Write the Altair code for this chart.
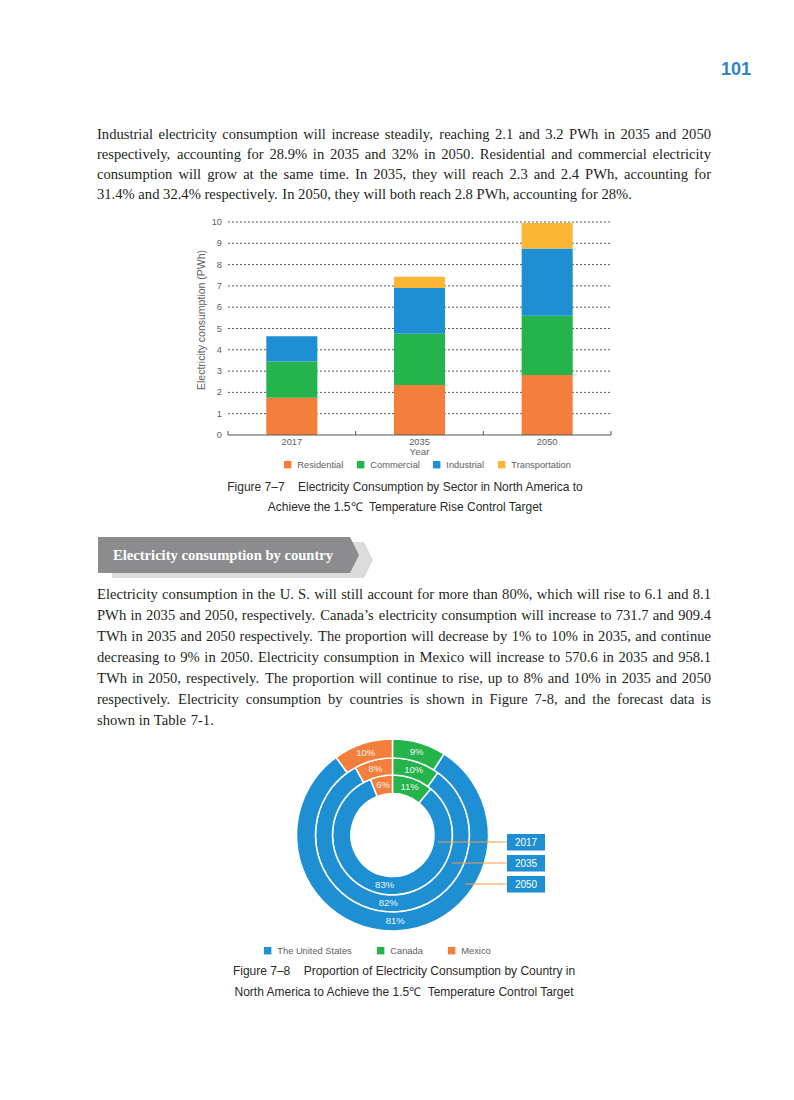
import altair as alt
import pandas as pd

# ---------------- text content ----------------
page_number = "101"
para1 = [
    "Industrial electricity consumption will increase steadily, reaching 2.1 and 3.2 PWh in 2035 and 2050",
    "respectively, accounting for 28.9% in 2035 and 32% in 2050. Residential and commercial electricity",
    "consumption will grow at the same time. In 2035, they will reach 2.3 and 2.4 PWh, accounting for",
    "31.4% and 32.4% respectively. In 2050, they will both reach 2.8 PWh, accounting for 28%.",
]
para2 = [
    "Electricity consumption in the U. S. will still account for more than 80%, which will rise to 6.1 and 8.1",
    "PWh in 2035 and 2050, respectively. Canada\u2019s electricity consumption will increase to 731.7 and 909.4",
    "TWh in 2035 and 2050 respectively. The proportion will decrease by 1% to 10% in 2035, and continue",
    "decreasing to 9% in 2050. Electricity consumption in Mexico will increase to 570.6 in 2035 and 958.1",
    "TWh in 2050, respectively. The proportion will continue to rise, up to 8% and 10% in 2035 and 2050",
    "respectively. Electricity consumption by countries is shown in Figure 7-8, and the forecast data is",
    "shown in Table 7-1.",
]
banner_text = "Electricity consumption by country"
caption1 = [
    "Figure 7\u20137\u00a0\u00a0\u00a0 Electricity Consumption by Sector in North America to",
    "Achieve the 1.5\u2103\u00a0 Temperature Rise Control Target",
]
caption2 = [
    "Figure 7\u20138\u00a0\u00a0\u00a0 Proportion of Electricity Consumption by Country in",
    "North America to Achieve the 1.5\u2103\u00a0 Temperature Control Target",
]

# ---------------- bar chart data ----------------
years = ["2017", "2035", "2050"]
sectors = ["Residential", "Commercial", "Industrial", "Transportation"]
residential = [1.75, 2.35, 2.82]
commercial = [1.70, 2.40, 2.78]
industrial = [1.19, 2.15, 3.16]
transportation = [0.0, 0.53, 1.19]
sector_colors = ["#F47F3D", "#25B34B", "#1E8FD2", "#FBB635"]
y_ticks = [0, 1, 2, 3, 4, 5, 6, 7, 8, 9, 10]
y_title = "Electricity consumption (PWh)"
x_title = "Year"

# ---------------- donut data ----------------
countries = ["The United States", "Canada", "Mexico"]
country_colors = ["#1F8FD3", "#25B34B", "#F47F3D"]
ring_years = ["2017", "2035", "2050"]
us_share = [83, 82, 81]
canada_share = [11, 10, 9]
mexico_share = [6, 8, 10]
clockwise_order = ["Canada", "The United States", "Mexico"]

# ---------------- tables ----------------
sector_values = [residential, commercial, industrial, transportation]
bar_rows = []
for si, s in enumerate(sectors):
    for yi, y in enumerate(years):
        bar_rows.append({"year": y, "sector": s, "value": sector_values[si][yi], "ord": si})
bar_df = pd.DataFrame(bar_rows)
year_df = pd.DataFrame({"year": years})
tick_df = pd.DataFrame({"v": y_ticks})

share_values = {"The United States": us_share, "Canada": canada_share, "Mexico": mexico_share}
donut_rows = []
for ri, ry in enumerate(ring_years):
    for c in countries:
        v = share_values[c][ri]
        donut_rows.append({"ring": ry, "country": c, "share": v,
                           "label": f"{v}%", "ord": clockwise_order.index(c)})
donut_df = pd.DataFrame(donut_rows)

BLANK = alt.Data(values=[{}])
SERIF = "Liberation Serif"
SANS = "Liberation Sans"

# Times-compatible advance widths (per 1000 em) used to justify body text lines
TIMES_W = {
    " ": 250, "!": 333, "%": 833, "'": 180, "(": 333, ")": 333, ",": 250, "-": 333, ".": 250,
    "/": 278, ":": 278, ";": 278, "?": 444, "\u2019": 333,
    "A": 722, "B": 667, "C": 667, "D": 722, "E": 611, "F": 556, "G": 722, "H": 722, "I": 333,
    "J": 389, "K": 722, "L": 611, "M": 889, "N": 722, "O": 722, "P": 556, "Q": 722, "R": 667,
    "S": 556, "T": 611, "U": 722, "V": 722, "W": 944, "X": 722, "Y": 722, "Z": 611,
    "a": 444, "b": 500, "c": 444, "d": 500, "e": 444, "f": 333, "g": 500, "h": 500, "i": 278,
    "j": 278, "k": 500, "l": 278, "m": 778, "n": 500, "o": 500, "p": 500, "q": 500, "r": 333,
    "s": 389, "t": 278, "u": 500, "v": 500, "w": 722, "x": 500, "y": 500, "z": 444,
}


def measure(s, size):
    return sum(TIMES_W.get(ch, 500) for ch in s) / 1000.0 * size


def justified_words(lines, left, right, top, line_height, size):
    rows = []
    for li, line in enumerate(lines):
        words = line.split(" ")
        yy = top + li * line_height
        if li == len(lines) - 1 or len(words) < 2:
            gap = measure(" ", size)
        else:
            total = sum(measure(w, size) for w in words)
            gap = (right - left - total) / (len(words) - 1)
        xx = left
        for w in words:
            rows.append({"word": w, "px": xx, "py": yy})
            xx += measure(w, size) + gap
    return pd.DataFrame(rows)


def text_block(lines, x, y, line_height=20, **kw):
    txt = lines if isinstance(lines, str) else (lines[0] if len(lines) == 1 else lines)
    return alt.Chart(BLANK).mark_text(text=txt, lineHeight=line_height, **kw).encode(
        x=alt.value(x), y=alt.value(y))


def paragraph(lines, top, line_height, size=14.6):
    df = justified_words(lines, 89, 703, top, line_height, size)
    return alt.Chart(df).mark_text(font=SERIF, fontSize=size, color="#231F20", align="left",
                                   baseline="alphabetic").encode(
        x=alt.X("px:Q", scale=None, axis=None),
        y=alt.Y("py:Q", scale=None, axis=None),
        text="word:N")


# ---------------- page text ----------------
page_no = text_block(page_number, 728, 62, font=SANS, fontSize=18, fontWeight="bold",
                     color="#2B87C8", align="center", baseline="middle")
p1 = paragraph(para1, 131, 20)
p2 = paragraph(para2, 591, 21)
cap1 = text_block(caption1, 397, 483, line_height=20, font=SANS, fontSize=12,
                  color="#2A2A2A", align="center", baseline="alphabetic")
cap2 = text_block(caption2, 396, 967, line_height=21, font=SANS, fontSize=12,
                  color="#2A2A2A", align="center", baseline="alphabetic")

# banner (arrow shapes)
banner_path = "M-1,-0.138 L0.931,-0.138 L1,0 L0.931,0.138 L-1,0.138 Z"
banner_shadow = alt.Chart(BLANK).mark_point(
    shape=banner_path, size=261 * 261, filled=True, color="#DCDCDC", opacity=1, strokeWidth=0
).encode(x=alt.value(234.5), y=alt.value(552))
banner_body = alt.Chart(BLANK).mark_point(
    shape=banner_path, size=261 * 261, filled=True, color="#8C8C8E", opacity=1, strokeWidth=0
).encode(x=alt.value(220.5), y=alt.value(547))
banner_label = text_block(banner_text, 105, 552, font=SERIF, fontSize=14.6, fontWeight="bold",
                          color="white", align="left", baseline="alphabetic")

# ---------------- bar chart ----------------
x_scale = alt.Scale(domain=years, range=[220, 603], paddingInner=0, paddingOuter=0)
y_scale = alt.Scale(domain=[0, 10], range=[427, 214], nice=False)
AX_COLOR = "#606060"

bars = alt.Chart(bar_df).mark_bar(width=alt.RelativeBandSize(0.4)).encode(
    x=alt.X("year:N", scale=x_scale, axis=None),
    y=alt.Y("value:Q", stack="zero", scale=y_scale, axis=None),
    color=alt.Color("sector:N", scale=alt.Scale(domain=sectors, range=sector_colors),
                    legend=alt.Legend(orient="none", legendX=275, legendY=452, direction="horizontal",
                                      title=None, symbolType="square", symbolSize=56,
                                      symbolStrokeWidth=0, labelFont=SANS, labelFontSize=9.3,
                                      labelColor=AX_COLOR, labelOffset=5, columnPadding=12,
                                      padding=0)),
    order=alt.Order("ord:Q"),
)

grid = alt.Chart(tick_df).transform_filter(alt.datum.v > 0).mark_rule(
    color="#444444", strokeDash=[2, 2], strokeWidth=0.9
).encode(y=alt.Y("v:Q", scale=y_scale, axis=None), x=alt.value(220), x2=alt.value(603))

baseline_rule = alt.Chart(tick_df).transform_filter(alt.datum.v == 0).mark_rule(
    color="#555555", strokeWidth=1.2
).encode(y=alt.Y("v:Q", scale=y_scale, axis=None), x=alt.value(220), x2=alt.value(603))

y_labels = alt.Chart(tick_df).mark_text(
    align="right", baseline="middle", font=SANS, fontSize=9.3, color=AX_COLOR
).encode(y=alt.Y("v:Q", scale=y_scale, axis=None), x=alt.value(214), text="v:Q")

x_ticks = alt.Chart(year_df).mark_rule(color="#555555", strokeWidth=1).encode(
    x=alt.X("year:N", scale=x_scale, axis=None, bandPosition=0),
    y=alt.value(423), y2=alt.value(427))
x_tick_end = alt.Chart(year_df).transform_filter(alt.datum.year == years[-1]).mark_rule(
    color="#555555", strokeWidth=1).encode(
    x=alt.X("year:N", scale=x_scale, axis=None, bandPosition=1),
    y=alt.value(423), y2=alt.value(427))

x_labels = alt.Chart(year_df).mark_text(
    align="center", baseline="middle", font=SANS, fontSize=9.3, color=AX_COLOR
).encode(x=alt.X("year:N", scale=x_scale, axis=None), y=alt.value(434), text="year:N")

x_title_txt = text_block(x_title, 411.5, 444, font=SANS, fontSize=9.8, color=AX_COLOR,
                         align="center", baseline="middle")
y_title_txt = text_block(y_title, 194, 312, font=SANS, fontSize=10.5, color=AX_COLOR,
                         align="center", baseline="middle", angle=270)

bar_group = alt.layer(grid, bars, baseline_rule, x_ticks, x_tick_end, y_labels, x_labels,
                      x_title_txt, y_title_txt)

# ---------------- donut chart ----------------
cx, cy = 384.5, 827
ring_inner = [41.5, 60, 77]
ring_outer = [60, 77, 96]
label_radius = [50.5, 68.5, 86.5]
country_scale = alt.Scale(domain=countries, range=country_colors)
donut_legend = alt.Legend(orient="none", legendX=255, legendY=938, direction="horizontal",
                          title=None, symbolType="square", symbolSize=56, symbolStrokeWidth=0,
                          labelFont=SANS, labelFontSize=9.3, labelColor=AX_COLOR,
                          labelOffset=5, columnPadding=24, padding=0)

donut_layers = []
for i, ry in enumerate(ring_years):
    base = alt.Chart(donut_df).transform_filter(alt.datum.ring == ry)
    arc = base.mark_arc(radius=ring_outer[i], radius2=ring_inner[i], stroke="white",
                        strokeWidth=1.5).encode(
        theta=alt.Theta("share:Q", stack=True),
        color=alt.Color("country:N", scale=country_scale, legend=donut_legend),
        order=alt.Order("ord:Q"),
        x=alt.value(cx), y=alt.value(cy),
    )
    lbl = base.mark_text(radius=label_radius[i], font=SANS, fontSize=9.5, color="white",
                         opacity=0.92, align="center", baseline="middle").encode(
        theta=alt.Theta("share:Q", stack=True),
        detail="country:N",
        order=alt.Order("ord:Q"),
        text="label:N",
        x=alt.value(cx), y=alt.value(cy),
    )
    donut_layers += [arc, lbl]

# callouts for ring years
line_start_x = [430, 444, 457]
callouts = []
for i, ry in enumerate(ring_years):
    top = 826 + i * 21
    one = alt.Chart(pd.DataFrame({"ring": ring_years})).transform_filter(alt.datum.ring == ry)
    callouts.append(one.mark_rule(color="#F59A4E", strokeWidth=1).encode(
        x=alt.value(line_start_x[i]), x2=alt.value(499), y=alt.value(top + 8)))
    callouts.append(one.mark_rect(color="#1F8FD3").encode(
        x=alt.value(499), x2=alt.value(537), y=alt.value(top), y2=alt.value(top + 16.5)))
    callouts.append(one.mark_text(font=SANS, fontSize=10, color="white", align="center",
                                  baseline="middle").encode(
        x=alt.value(518), y=alt.value(top + 8.5), text="ring:N"))

donut_group = alt.layer(*donut_layers, *callouts)

chart = alt.layer(
    page_no, p1, bar_group, cap1, banner_shadow, banner_body, banner_label, p2,
    donut_group, cap2
).resolve_scale(color="independent", x="independent", y="independent").properties(
    width=778, height=1084, padding=0, autosize="none", background="white"
).configure_view(stroke=None)

chart.save("out.html", embed_options={"renderer": "svg", "actions": False})
